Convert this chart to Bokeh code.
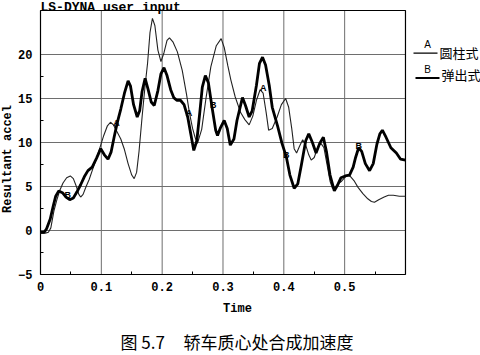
import math
from bokeh.plotting import figure
from bokeh.models import FixedTicker, Label, BoxAnnotation, LinearAxis
from bokeh.embed import file_html
from bokeh.resources import INLINE

# ---- data ----
tA = [0.000, 0.008, 0.013, 0.017, 0.022, 0.027, 0.032, 0.037, 0.043, 0.049, 0.054, 0.059, 0.063, 0.066,
      0.070, 0.075, 0.080, 0.086, 0.093, 0.099, 0.104, 0.110, 0.115, 0.120, 0.126, 0.132, 0.138, 0.144,
      0.150, 0.154, 0.158, 0.162, 0.167, 0.172, 0.176, 0.180, 0.184, 0.188, 0.193, 0.198, 0.203, 0.208,
      0.212, 0.218, 0.225, 0.233, 0.240, 0.245, 0.250, 0.254, 0.258, 0.265, 0.272, 0.280, 0.289, 0.297,
      0.302, 0.308, 0.313, 0.320, 0.329, 0.336, 0.343, 0.349, 0.355, 0.361, 0.366, 0.371, 0.375, 0.381,
      0.389, 0.396, 0.403, 0.408, 0.413, 0.417, 0.421, 0.426, 0.431, 0.436, 0.441, 0.445, 0.450, 0.456,
      0.461, 0.466, 0.471, 0.476, 0.480, 0.485, 0.489, 0.495, 0.500, 0.505, 0.510, 0.516, 0.522, 0.530,
      0.538, 0.544, 0.549, 0.556, 0.565, 0.572, 0.580, 0.590, 0.600]
yA = [-0.3, -0.3, -0.2, 0.3, 2.2, 3.5, 4.6, 5.4, 6.0, 6.2, 5.9, 5.0, 4.1, 3.8,
      4.1, 5.0, 5.8, 7.0, 8.4, 9.7, 10.8, 11.9, 12.3, 12.0, 11.2, 10.4, 9.2, 7.6,
      6.3, 5.9, 6.6, 9.0, 12.9, 16.5, 19.0, 22.5, 24.1, 23.3, 20.5, 19.2, 20.2, 21.6,
      21.9, 21.4, 20.3, 18.2, 15.5, 13.3, 11.6, 10.6, 9.9, 11.5, 15.0, 18.6, 21.0, 21.8,
      20.8, 18.7, 17.1, 15.2, 13.4, 12.6, 12.0, 13.0, 14.8, 16.0, 15.6, 13.4, 11.4, 11.6,
      12.9, 14.3, 15.0, 14.0, 11.6, 9.3, 8.8, 9.6, 10.3, 9.7, 8.6, 8.0, 8.3, 9.5,
      9.9, 9.4, 7.5, 5.6, 4.8, 5.0, 5.3, 5.6, 6.0, 6.3, 6.1, 5.6, 4.9, 4.2,
      3.6, 3.3, 3.2, 3.5, 3.8, 4.0, 4.0, 3.9, 3.9]

tB = [0.000, 0.006, 0.010, 0.016, 0.021, 0.025, 0.030, 0.036, 0.042, 0.048, 0.054, 0.060, 0.066, 0.072,
      0.078, 0.085, 0.092, 0.099, 0.105, 0.111, 0.116, 0.121, 0.126, 0.132, 0.138, 0.144, 0.148, 0.153,
      0.159, 0.163, 0.167, 0.172, 0.177, 0.182, 0.187, 0.193, 0.198, 0.203, 0.208, 0.214, 0.219, 0.224,
      0.230, 0.236, 0.242, 0.247, 0.252, 0.257, 0.262, 0.266, 0.271, 0.276, 0.282, 0.288, 0.291, 0.296,
      0.302, 0.307, 0.312, 0.318, 0.323, 0.332, 0.337, 0.343, 0.348, 0.355, 0.360, 0.365, 0.370, 0.376,
      0.381, 0.390, 0.397, 0.404, 0.410, 0.417, 0.423, 0.429, 0.436, 0.441, 0.447, 0.453, 0.459, 0.465,
      0.470, 0.476, 0.483, 0.488, 0.494, 0.501, 0.508, 0.514, 0.518, 0.523, 0.528, 0.534, 0.541, 0.547,
      0.553, 0.558, 0.562, 0.568, 0.576, 0.585, 0.592, 0.600]
yB = [-0.2, -0.2, 0.2, 1.3, 2.8, 3.9, 4.5, 4.3, 3.8, 3.5, 3.7, 4.4, 5.2, 6.1,
      6.8, 7.2, 8.2, 9.3, 8.6, 8.1, 8.9, 10.6, 12.2, 13.8, 15.6, 17.0, 16.4, 14.3,
      12.9, 13.6, 15.8, 17.3, 16.0, 14.6, 14.2, 15.9, 17.8, 18.5, 17.6, 16.0, 15.1, 14.8,
      14.8, 14.3, 12.9, 11.0, 9.1, 10.2, 13.5, 16.3, 17.6, 16.8, 14.0, 11.4, 10.8, 11.7,
      12.5, 11.6, 9.7, 10.4, 12.5, 15.1, 14.2, 12.9, 13.6, 16.5, 19.0, 19.7, 18.8, 16.5,
      14.0, 11.8, 9.9, 8.4, 6.3, 4.8, 5.3, 7.5, 10.2, 11.0, 10.0, 8.8, 9.9, 10.6,
      9.0, 6.3, 4.5, 5.1, 6.0, 6.2, 6.3, 7.2, 8.3, 9.4, 9.0, 7.6, 6.8, 7.6,
      9.8, 11.0, 11.4, 10.6, 9.4, 8.8, 8.1, 8.0]

x_ticks = [0, 0.1, 0.2, 0.3, 0.4, 0.5]
x_minor = [0.05, 0.15, 0.25, 0.35, 0.45, 0.55]
y_ticks = [-5, 0, 5, 10, 15, 20]
y_minor = [-2.5, 2.5, 7.5, 12.5, 17.5]
x_lo, x_hi = 0, 0.6
y_lo, y_hi = -5, 25

curve_tags = [("A", 0.125, 12.2), ("A", 0.244, 13.4), ("A", 0.366, 16.2),
              ("B", 0.045, 4.0), ("B", 0.284, 14.3), ("B", 0.404, 8.6), ("B", 0.523, 9.6)]

legend_names = ["圆柱式", "弹出式"]
legend_tags = ["A", "B"]
chart_title = "LS-DYNA user input"
x_label = "Time"
y_label = "Resultant accel"
caption_num = "图 5.7"
caption_text = "轿车质心处合成加速度"

MONO = "Liberation Mono"
CJK = "Noto Sans CJK SC"

# The frame covers the whole canvas; the plot box (0..0.6, -5..25) sits at
# px x 40..405, y 10..274, axes are pinned to its left and bottom edges.
XS = 608.3   # px per x unit
YS = 8.8     # px per y unit
p = figure(width=480, height=355, output_backend="svg", toolbar_location=None,
           x_axis_type=None, y_axis_type=None,
           x_range=(x_lo - 40 / XS, x_lo + 440 / XS), y_range=(y_lo - 81 / YS, y_hi + 10 / YS),
           min_border=0, min_border_left=0, min_border_right=0, min_border_top=0, min_border_bottom=0)
p.background_fill_color = "white"
p.border_fill_color = "white"
p.outline_line_color = None

xa = LinearAxis(fixed_location=y_lo, ticker=FixedTicker(ticks=x_ticks, minor_ticks=x_minor),
                bounds=(x_lo, 0.648), axis_label=x_label)
ya = LinearAxis(fixed_location=x_lo, ticker=FixedTicker(ticks=y_ticks, minor_ticks=y_minor),
                bounds=(y_lo, 21.2), axis_label=y_label)
for ax in (xa, ya):
    ax.axis_line_color = None
    ax.major_tick_in = 0
    ax.major_tick_out = 0
    ax.minor_tick_in = 3
    ax.minor_tick_out = 0
    ax.minor_tick_line_color = "black"
    ax.major_label_text_font = MONO
    ax.major_label_text_font_style = "bold"
    ax.major_label_text_font_size = "12px"
    ax.major_label_text_color = "black"
    ax.axis_label_text_font = MONO
    ax.axis_label_text_font_style = "bold"
    ax.axis_label_text_color = "black"
xa.major_label_standoff = 7
ya.major_label_standoff = 8
xa.axis_label_text_font_size = "12px"
ya.axis_label_text_font_size = "12px"
xa.axis_label_standoff = 8
ya.axis_label_standoff = 0
p.add_layout(xa, "below")
p.add_layout(ya, "left")

# grid lines and plot box, from the tick lists and the box limits
grid_col = "#6e6e6e"
gx = x_ticks[1:]
gy = y_ticks[1:]
p.segment(x0=gx, y0=[y_lo] * len(gx), x1=gx, y1=[y_hi] * len(gx), line_color=grid_col, line_width=1)
p.segment(x0=[x_lo] * len(gy), y0=gy, x1=[x_hi] * len(gy), y1=gy, line_color=grid_col, line_width=1)
p.quad(left=[x_lo], right=[x_hi], bottom=[y_lo], top=[y_hi], fill_color=None,
       line_color="black", line_width=1.2)

p.line(tA, yA, line_color="#222222", line_width=1.1)
p.line(tB, yB, line_color="black", line_width=2.8)

for t, x, y in curve_tags:
    p.add_layout(Label(x=x, y=y, text=t, text_font="Liberation Sans", text_font_style="bold",
                       text_font_size="9px", text_align="center", text_baseline="middle",
                       text_color="black"))


def clabel(x, y, text, **kw):
    p.add_layout(Label(x=x, y=y, x_units="canvas", y_units="canvas", text=text,
                       text_color="black", **kw))


clabel(40, 7, chart_title, text_font=MONO, text_font_style="bold",
       text_font_size="13px", text_align="left", text_baseline="alphabetic")

# legend (right of the plot box)
clabel(427, 44, legend_tags[0], text_font="Liberation Sans", text_font_size="10px",
       text_align="center", text_baseline="middle")
p.add_layout(BoxAnnotation(left=413, right=437, top=52, bottom=53.3, left_units="canvas",
                           right_units="canvas", top_units="canvas", bottom_units="canvas",
                           fill_color="black", fill_alpha=1, line_alpha=0))
clabel(439, 52, legend_names[0], text_font=CJK, text_font_size="13px",
       text_align="left", text_baseline="middle")
clabel(427, 69, legend_tags[1], text_font="Liberation Sans", text_font_size="10px",
       text_align="center", text_baseline="middle")
p.add_layout(BoxAnnotation(left=415, right=439, top=76.5, bottom=78.5, left_units="canvas",
                           right_units="canvas", top_units="canvas", bottom_units="canvas",
                           fill_color="black", fill_alpha=1, line_alpha=0))
clabel(441, 74, legend_names[1], text_font=CJK, text_font_size="13px",
       text_align="left", text_baseline="middle")

# caption
clabel(120, 341, caption_num, text_font=CJK, text_font_size="17px",
       text_align="left", text_baseline="middle")
clabel(183, 341, caption_text, text_font=CJK, text_font_size="17px",
       text_align="left", text_baseline="middle")

open("out.html", "w").write(file_html(p, INLINE))
